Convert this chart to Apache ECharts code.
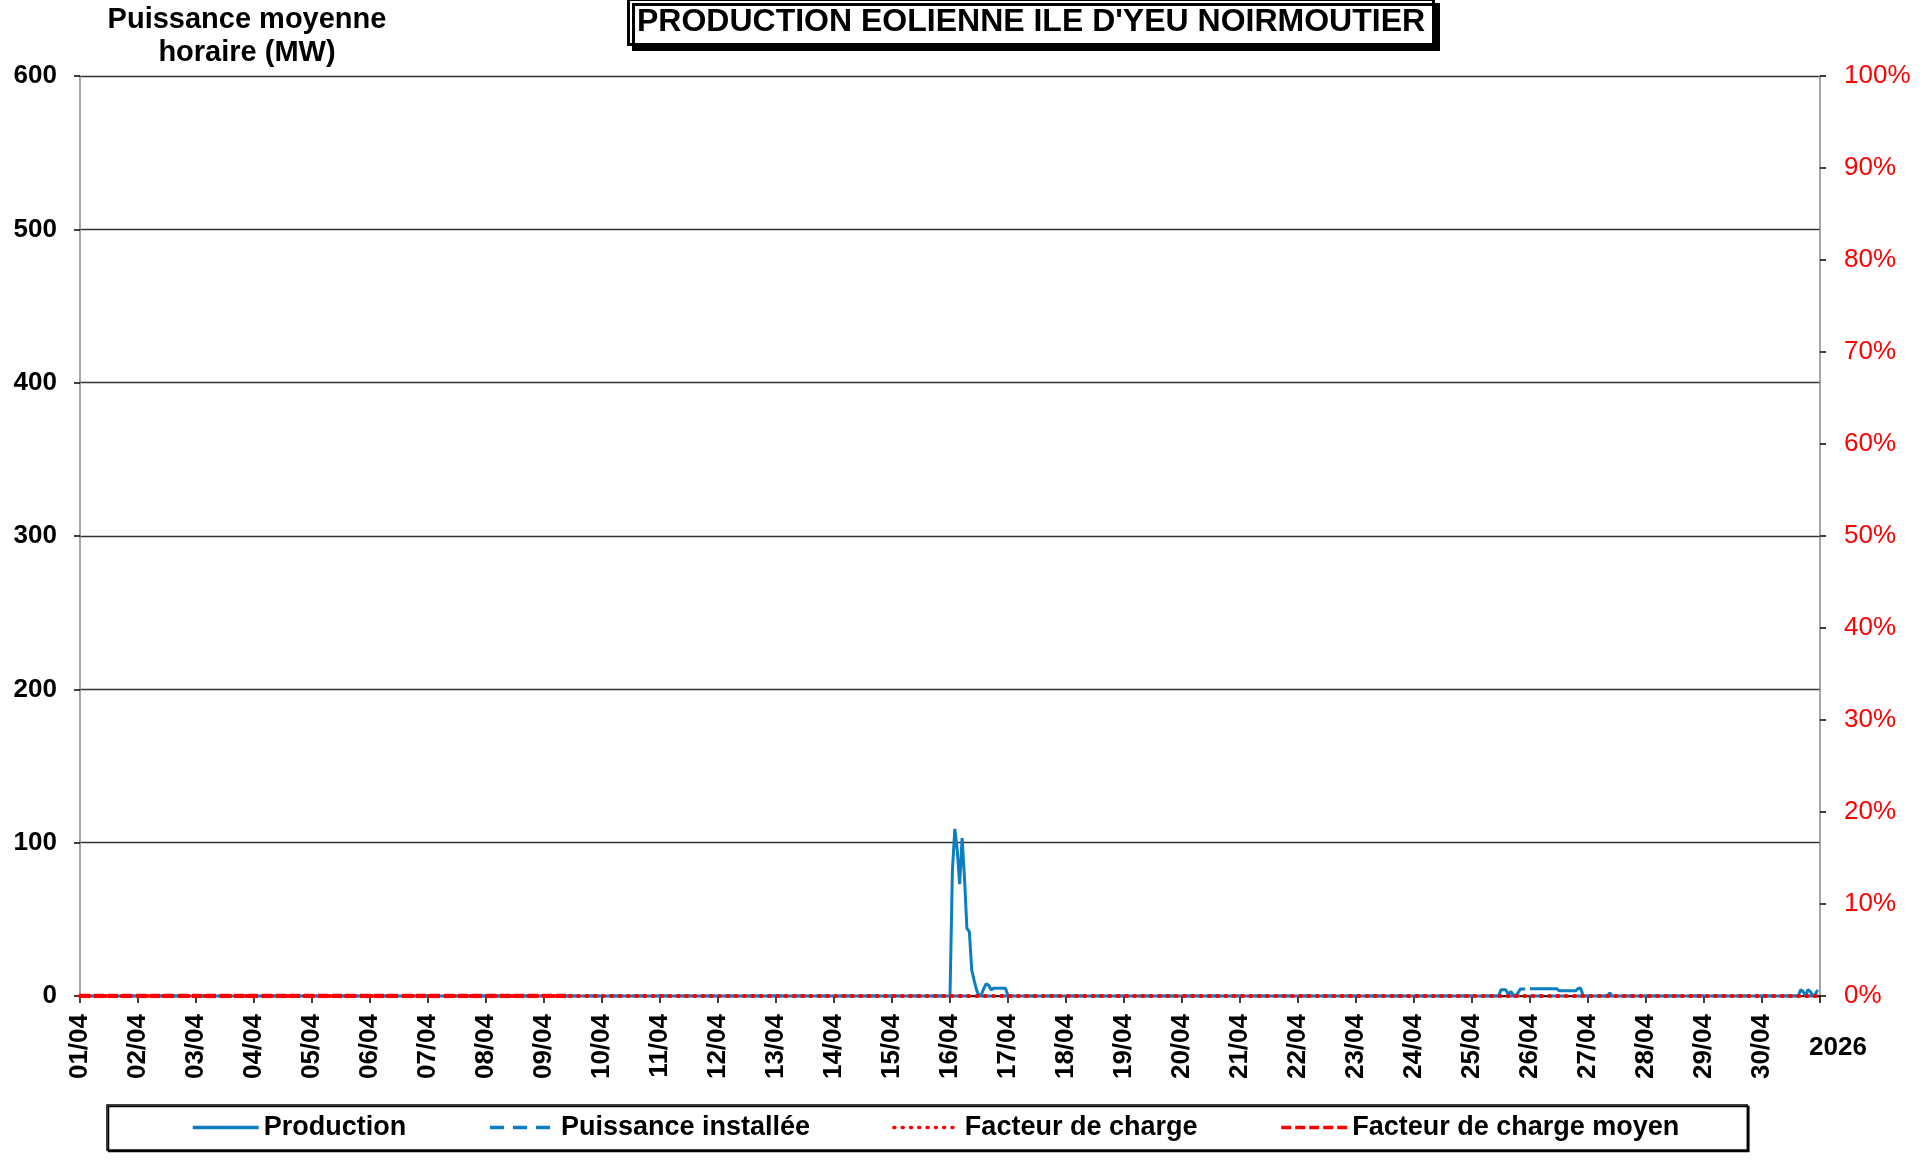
<!DOCTYPE html>
<html>
<head>
<meta charset="utf-8">
<script src="https://cdn.jsdelivr.net/npm/echarts@6/dist/echarts.min.js"></script>
<style>
html,body{margin:0;padding:0;background:#fff;}
#chart{width:1932px;height:1160px;}
</style>
</head>
<body>
<div id="chart"></div>
<script>
// ---- Data ----
const chartTitle = "PRODUCTION EOLIENNE ILE D'YEU NOIRMOUTIER";
const leftAxisName = "Puissance moyenne\nhoraire (MW)";
const yearLabel = "2026";
const dayLabels = ['01/04','02/04','03/04','04/04','05/04','06/04','07/04','08/04','09/04','10/04',
  '11/04','12/04','13/04','14/04','15/04','16/04','17/04','18/04','19/04','20/04',
  '21/04','22/04','23/04','24/04','25/04','26/04','27/04','28/04','29/04','30/04'];
const pctLabels = ['0%','10%','20%','30%','40%','50%','60%','70%','80%','90%','100%'];
const seriesNames = ['Production','Puissance installée','Facteur de charge','Facteur de charge moyen'];

// hours counted from 01/04 00:00 (vertices of the drawn lines)
const productionHour = [0,360,361,362,363,364,365,366,367,368,369,370,371,372,373,374,375,376,377,378,379,380,381,382,383,384,
  587,588,589,590,591,592,593,594,595,596,597,598,599,600,611,612,619,620,621,622,
  632,633,634,711,712,713,714,715,716,717,718,719];
const productionMW = [0,0,82,109,95,73,103,77,44,42,17,10,4,0,1,5,8,7,4,5,5,5,5,5,5,0,
  0,4,4,4,1,3,1,0,2,4.5,4.5,4.5,null,4.8,4.8,3.5,3.5,5,5,0,
  0,2,0,0,4,3,0,4,3,0,1,4];
const installedHour = [0,719];
const installedMW = [0,0];
const factorHour = [0,719];
const factorPct = [0,0];
const meanFactorHour = [0,203];
const meanFactorPct = [0,0];

const pair = (xs, ys) => xs.map((x, i) => [x, ys[i]]);

const chart = echarts.init(document.getElementById('chart'), null, {renderer:'canvas'});
const FONT = 'Liberation Sans, Arial, sans-serif';
const BLUE = '#0B7EC1';
const RED = '#FF0000';

chart.setOption({
  animation: false,
  backgroundColor: '#fff',
  textStyle: {fontFamily: FONT},
  title: {
    text: chartTitle,
    left: 628, top: -1,
    padding: [5, 9, 4, 9],
    backgroundColor: '#fff',
    borderColor: '#000',
    borderWidth: 3,
    shadowColor: '#000',
    shadowBlur: 0,
    shadowOffsetX: 5,
    shadowOffsetY: 5,
    textStyle: {fontFamily: FONT, fontWeight: 'bold', fontSize: 32, lineHeight: 37, color: '#000'}
  },
  legend: {
    left: 107, top: 1105,
    padding: [9, 68, 9, 84],
    itemWidth: 66, itemHeight: 14, itemGap: 82,
    backgroundColor: '#fff',
    borderColor: '#000', borderWidth: 1.5,
    shadowColor: '#000', shadowBlur: 0, shadowOffsetX: 1.5, shadowOffsetY: 1.5,
    itemStyle: {opacity: 0},
    lineStyle: {width: 3.5},
    textStyle: {fontFamily: FONT, fontWeight: 'bold', fontSize: 27, color: '#000'},
    data: seriesNames
  },
  grid: {left: 80, top: 76, width: 1740, height: 920, containLabel: false},
  xAxis: {
    type: 'value', min: 0, max: 720, interval: 24,
    axisLine: {show: true, lineStyle: {color: '#000', width: 1.5}},
    axisTick: {show: true, length: 7, lineStyle: {color: '#000', width: 1.5}},
    splitLine: {show: false},
    axisLabel: {
      rotate: 90, margin: 18,
      fontFamily: FONT, fontWeight: 'bold', fontSize: 26, color: '#000',
      formatter: v => dayLabels[Math.round(v / 24)] || ''
    }
  },
  yAxis: [{
    type: 'value', min: 0, max: 600, interval: 100, position: 'left',
    axisLine: {show: true, lineStyle: {color: '#888', width: 1.5}},
    axisTick: {show: true, length: 6, lineStyle: {color: '#000', width: 1.5}},
    splitLine: {show: true, lineStyle: {color: '#333', width: 1.3}},
    axisLabel: {margin: 23, fontFamily: FONT, fontWeight: 'bold', fontSize: 26, color: '#000'}
  }, {
    type: 'value', min: 0, max: 1, interval: 0.1, position: 'right',
    axisLine: {show: true, lineStyle: {color: '#888', width: 1.5}},
    axisTick: {show: true, length: 6, lineStyle: {color: '#000', width: 1.5}},
    splitLine: {show: false},
    axisLabel: {margin: 24, fontFamily: FONT, fontSize: 26, color: RED,
      formatter: v => pctLabels[Math.round(v * 10)]}
  }],
  graphic: [{
    type: 'text', x: 247, y: 3,
    style: {text: leftAxisName, x: 0, y: 0, textAlign: 'center', textVerticalAlign: 'top',
      font: 'bold 29px ' + FONT, lineHeight: 33, fill: '#000'}
  }, {
    type: 'text', x: 1838, y: 1048,
    style: {text: yearLabel, textAlign: 'center', textVerticalAlign: 'middle',
      font: 'bold 26px ' + FONT, fill: '#000'}
  }],
  series: [{
    name: seriesNames[0], type: 'line', yAxisIndex: 0, z: 2,
    data: pair(productionHour, productionMW),
    showSymbol: false, symbol: 'none', connectNulls: false,
    lineStyle: {color: BLUE, width: 3}, itemStyle: {color: BLUE}
  }, {
    name: seriesNames[1], type: 'line', yAxisIndex: 0, z: 3,
    data: pair(installedHour, installedMW),
    showSymbol: false, symbol: 'none',
    lineStyle: {color: BLUE, width: 3, type: [14, 9]}, itemStyle: {color: BLUE}
  }, {
    name: seriesNames[2], type: 'line', yAxisIndex: 1, z: 4,
    data: pair(factorHour, factorPct),
    showSymbol: false, symbol: 'none',
    lineStyle: {color: RED, width: 4, type: [1, 7.3], cap: 'round'}, itemStyle: {color: RED}
  }, {
    name: seriesNames[3], type: 'line', yAxisIndex: 1, z: 5,
    data: pair(meanFactorHour, meanFactorPct),
    showSymbol: false, symbol: 'none',
    lineStyle: {color: RED, width: 4.5, type: [10, 4]}, itemStyle: {color: RED}
  }]
});
</script>
</body>
</html>
